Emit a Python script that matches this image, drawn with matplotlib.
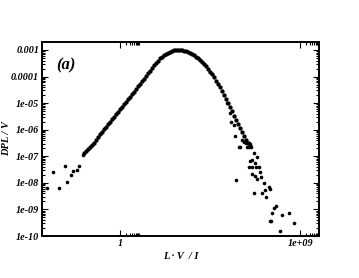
import numpy as np
import matplotlib
matplotlib.use("Agg")
from matplotlib import pyplot as plt
from matplotlib.ticker import FixedLocator, NullFormatter, FixedFormatter

# main curve as log10 values
curve_logx = [-1.8, -1.7, -1.6, -1.5, -1.4, -1.3, -1.2, -1.1, -1.0, -0.9,
              -0.8, -0.7, -0.6, -0.5, -0.4, -0.3, -0.2, -0.1, 0.0, 0.1,
              0.2, 0.3, 0.4, 0.5, 0.6, 0.7, 0.8, 0.9, 1.0, 1.1,
              1.2, 1.3, 1.4, 1.5, 1.6, 1.7, 1.8, 1.9, 2.0, 2.1,
              2.2, 2.3, 2.4, 2.5, 2.6, 2.7, 2.8, 2.9, 3.0, 3.1,
              3.2, 3.3, 3.4, 3.5, 3.6, 3.7, 3.8, 3.9, 4.0, 4.1,
              4.2, 4.3, 4.4, 4.5, 4.6, 4.7, 4.8, 4.9, 5.0, 5.1,
              5.2, 5.3, 5.4, 5.5, 5.6, 5.7, 5.8, 5.9, 6.0, 6.1,
              6.2, 6.3, 6.4, 6.5]
curve_logy = [-6.86, -6.80, -6.74, -6.65, -6.58, -6.49, -6.40, -6.28, -6.18, -6.08,
              -5.99, -5.89, -5.80, -5.71, -5.61, -5.51, -5.41, -5.32, -5.22, -5.13,
              -5.04, -4.94, -4.85, -4.76, -4.66, -4.57, -4.47, -4.37, -4.28, -4.18,
              -4.08, -3.97, -3.88, -3.78, -3.68, -3.58, -3.49, -3.40, -3.32, -3.26,
              -3.20, -3.15, -3.10, -3.07, -3.04, -3.02, -3.01, -3.00, -3.00, -3.01,
              -3.03, -3.05, -3.08, -3.12, -3.16, -3.20, -3.25, -3.31, -3.38, -3.45,
              -3.53, -3.62, -3.72, -3.82, -3.92, -4.03, -4.15, -4.27, -4.40, -4.54,
              -4.68, -4.83, -4.98, -5.13, -5.30, -5.48, -5.64, -5.80, -5.95, -6.10,
              -6.25, -6.38, -6.50, -6.61]

# scattered points in the tails
tail_logx = [-3.63, -3.33, -3.03, -2.73, -2.63, -2.43, -2.33, -2.15, -2.03, -1.83,
             5.33, 5.47, 5.53, 5.67, 5.75, 5.97, 6.08, 6.30, 6.42,
             6.17, 6.42, 6.50, 5.92, 6.33, 6.53, 6.67, 6.83, 6.47, 6.58,
             6.75, 6.42, 6.58, 6.80, 6.92, 5.80, 6.58, 6.75, 7.00, 6.83,
             7.03, 7.17, 6.70, 7.08, 7.25, 7.42, 7.50, 7.30, 7.80, 7.70,
             7.58, 7.47, 7.53, 8.08, 8.42, 8.67, 8.00]
tail_logy = [-8.20, -7.60, -8.20, -7.35, -7.96, -7.72, -7.57, -7.50, -7.38, -6.94,
             -5.01, -5.38, -5.70, -5.82, -6.24, -6.66, -6.39, -6.49, -6.66,
             -6.45, -6.49, -6.54, -6.66, -6.64, -6.64, -6.89, -7.01, -7.17, -7.14,
             -7.24, -7.39, -7.39, -7.39, -7.42, -7.89, -7.68, -7.74, -7.58, -7.87,
             -7.77, -8.02, -8.39, -8.37, -8.27, -8.17, -8.24, -8.54, -8.87, -8.96,
             -9.12, -9.42, -9.42, -9.21, -9.15, -9.52, -9.81]

font = dict(family="Liberation Serif", weight="bold", style="italic")

fig = plt.figure(figsize=(3.59, 2.78), dpi=100)
ax = fig.add_axes([0.117, 0.151, 0.772, 0.698])

ax.plot(np.power(10.0, curve_logx), np.power(10.0, curve_logy), "o",
        color="black", ms=3.1, mew=0)
ax.plot(np.power(10.0, tail_logx), np.power(10.0, tail_logy), "o",
        color="black", ms=2.6, mew=0)

ax.set_xscale("log")
ax.set_yscale("log")
ax.set_xlim(10 ** -3.9, 10 ** 9.95)
ax.set_ylim(1e-10, 10 ** -2.70)

# x ticks: only 1 and 1e+09, minor ticks right after each
ax.xaxis.set_major_locator(FixedLocator([1.0, 1e9]))
ax.xaxis.set_major_formatter(FixedFormatter(["1", "1e+09"]))
xminor = [m * 1.0 for m in range(2, 10)] + [m * 1e9 for m in range(2, 10)]
ax.xaxis.set_minor_locator(FixedLocator(xminor))
ax.xaxis.set_minor_formatter(NullFormatter())

ydec = [10.0 ** k for k in range(-10, -2)]
ylabels = ["1e-10", "1e-09", "1e-08", "1e-07", "1e-06", "1e-05", "0.0001", "0.001"]
ax.yaxis.set_major_locator(FixedLocator(ydec))
ax.yaxis.set_major_formatter(FixedFormatter(ylabels))
yminor = [m * d for d in ydec for m in range(2, 10)]
ax.yaxis.set_minor_locator(FixedLocator(yminor))
ax.yaxis.set_minor_formatter(NullFormatter())

ax.tick_params(which="both", direction="in", top=True, right=True, width=0.8)
ax.tick_params(which="major", length=4.5, pad=2)
ax.tick_params(which="minor", length=2.2)
for lab in ax.get_xticklabels() + ax.get_yticklabels():
    lab.set_fontproperties(font)
    lab.set_fontsize(7.3)
for s in ax.spines.values():
    s.set_linewidth(1.4)

ax.set_xlabel("L · V  / I", fontsize=7.5, labelpad=3, **font)
ax.set_ylabel("DPL / V", fontsize=7.5, **font)
ax.yaxis.set_label_coords(-0.112, 0.5)
ax.text(0.085, 0.88, "(a)", transform=ax.transAxes, fontsize=12,
        ha="center", va="center", **font)

fig.savefig("out.png", dpi=100)
